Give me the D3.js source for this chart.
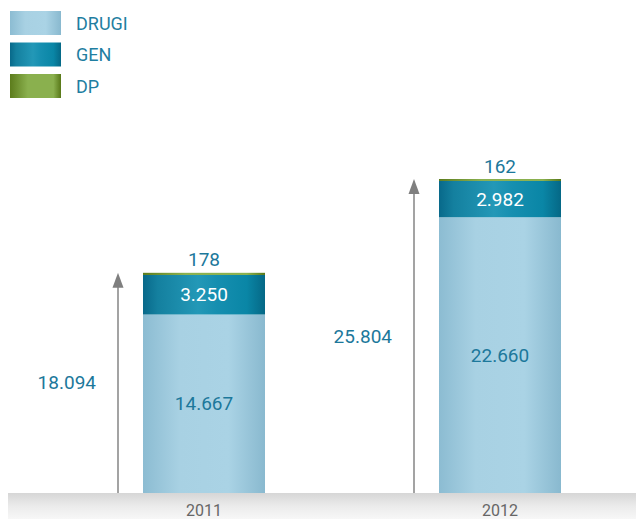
<!DOCTYPE html>
<html>
<head>
<meta charset="utf-8">
<script src="https://cdn.jsdelivr.net/npm/d3@7"></script>
<style>
  body { margin: 0; background: #fff; }
  text { font-family: Roboto, "Open Sans", sans-serif; }
</style>
</head>
<body>
<div id="chart"></div>
<script>
// data
const years = ["2011", "2012"];
const series = ["DRUGI", "GEN", "DP"];
const drugiValues = [14667, 22660];
const genValues = [3250, 2982];
const dpValues = [178, 162];
const totals = [18094, 25804];
const valueLabels = {
  DRUGI: ["14.667", "22.660"],
  GEN: ["3.250", "2.982"],
  DP: ["178", "162"]
};
const totalLabels = ["18.094", "25.804"];

const width = 636;
const height = 519;

const svg = d3.select("#chart")
  .append("svg")
  .attr("width", width)
  .attr("height", height);

const defs = svg.append("defs");

// horizontal gradients, darker at the edges
function hGrad(id, stops) {
  const g = defs.append("linearGradient")
    .attr("id", id)
    .attr("x1", "0%").attr("x2", "100%")
    .attr("y1", "0%").attr("y2", "0%");
  stops.forEach(s => g.append("stop").attr("offset", s[0]).attr("stop-color", s[1]));
}

hGrad("gDrugi", [[0, "#8cbcd2"], [0.3, "#a8d1e3"], [0.7, "#aad3e5"], [1, "#89b9cf"]]);
hGrad("gGen", [[0, "#08698a"], [0.12, "#14809f"], [0.45, "#2398b7"], [0.6, "#168fb0"], [0.85, "#0a86a6"], [1, "#056886"]]);
hGrad("gDp", [[0, "#5c7c1c"], [0.35, "#8ab04e"], [0.85, "#8ab04e"], [1, "#587818"]]);

const floorGrad = defs.append("linearGradient")
  .attr("id", "gFloor")
  .attr("x1", "0%").attr("x2", "0%")
  .attr("y1", "0%").attr("y2", "100%");
floorGrad.append("stop").attr("offset", 0).attr("stop-color", "#d6d6d6");
floorGrad.append("stop").attr("offset", 0.5).attr("stop-color", "#ebebeb");
floorGrad.append("stop").attr("offset", 1).attr("stop-color", "#f7f7f7");

const fills = { DRUGI: "url(#gDrugi)", GEN: "url(#gGen)", DP: "url(#gDp)" };

// scales
const y = d3.scaleLinear()
  .domain([0, 25804])
  .range([493, 179]);

const x = d3.scalePoint()
  .domain(years)
  .range([204, 500]);

const barWidth = 122;

// floor
svg.append("rect")
  .attr("x", 8)
  .attr("y", y(0))
  .attr("width", width - 8)
  .attr("height", height - y(0))
  .attr("fill", "url(#gFloor)");

// stack
const rows = years.map((yr, i) => ({
  year: yr,
  DRUGI: drugiValues[i],
  GEN: genValues[i],
  DP: dpValues[i]
}));

const stacked = d3.stack().keys(series)(rows);

stacked.forEach(layer => {
  svg.append("g")
    .selectAll("rect")
    .data(layer)
    .enter()
    .append("rect")
    .attr("x", d => x(d.data.year) - barWidth / 2)
    .attr("y", d => y(d[1]))
    .attr("width", barWidth)
    .attr("height", d => y(d[0]) - y(d[1]))
    .attr("fill", fills[layer.key]);
});

// labels inside bars
stacked.forEach(layer => {
  if (layer.key === "DP") return;
  svg.append("g")
    .selectAll("text")
    .data(layer)
    .enter()
    .append("text")
    .attr("x", d => x(d.data.year))
    .attr("y", d => (y(d[0]) + y(d[1])) / 2)
    .attr("text-anchor", "middle")
    .attr("dominant-baseline", "central")
    .style("font-size", "19px")
    .style("fill", layer.key === "GEN" ? "#ffffff" : "#1c789b")
    .text((d, i) => valueLabels[layer.key][i]);
});

// DP labels above bars
svg.append("g")
  .selectAll("text")
  .data(stacked[2])
  .enter()
  .append("text")
  .attr("x", d => x(d.data.year))
  .attr("y", d => y(d[1]) - 13)
  .attr("text-anchor", "middle")
  .attr("dominant-baseline", "central")
  .style("font-size", "19px")
  .style("fill", "#1c789b")
  .text((d, i) => valueLabels.DP[i]);

// total arrows
const arrowOffset = 86;

years.forEach((yr, i) => {
  const ax = x(yr) - arrowOffset;
  const top = y(totals[i]);

  svg.append("line")
    .attr("x1", ax).attr("x2", ax)
    .attr("y1", y(0)).attr("y2", top + 10)
    .attr("stroke", "#8c8c8c")
    .attr("stroke-width", 1.6);

  svg.append("path")
    .attr("d", `M${ax},${top} L${ax - 5.5},${top + 15} L${ax + 5.5},${top + 15} Z`)
    .attr("fill", "#7f7f7f");

  svg.append("text")
    .attr("x", ax - 22)
    .attr("y", (y(0) + top) / 2)
    .attr("text-anchor", "end")
    .attr("dominant-baseline", "central")
    .style("font-size", "19px")
    .style("fill", "#1c789b")
    .text(totalLabels[i]);
});

// year labels
svg.append("g")
  .selectAll("text")
  .data(years)
  .enter()
  .append("text")
  .attr("x", d => x(d))
  .attr("y", 510)
  .attr("text-anchor", "middle")
  .attr("dominant-baseline", "central")
  .style("font-size", "16px")
  .style("fill", "#666666")
  .text(d => d);

// legend
const legend = svg.append("g")
  .selectAll("g")
  .data(series)
  .enter()
  .append("g")
  .attr("transform", (d, i) => `translate(10, ${11 + i * 31.5})`);

legend.append("rect")
  .attr("width", 51)
  .attr("height", 24)
  .attr("fill", d => fills[d]);

legend.append("text")
  .attr("x", 66)
  .attr("y", 12)
  .attr("dominant-baseline", "central")
  .style("font-size", "18px")
  .style("fill", "#1f7ea1")
  .text(d => d);
</script>
</body>
</html>
